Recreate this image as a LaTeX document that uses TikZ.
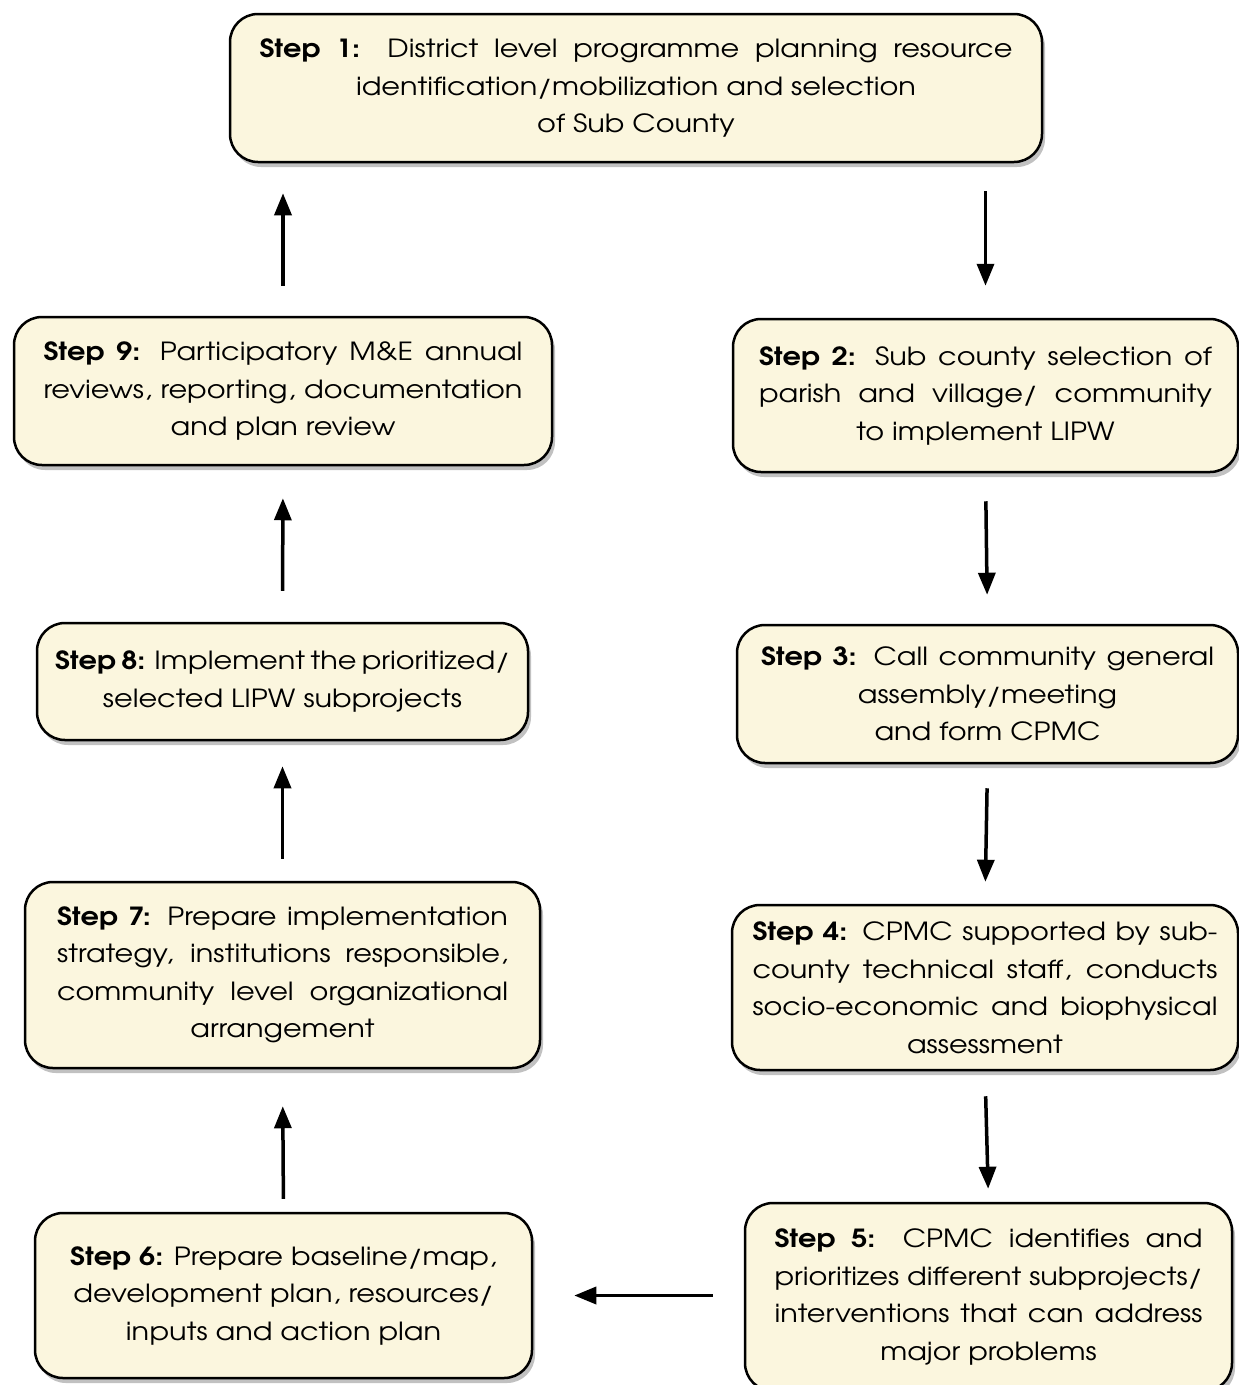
\documentclass[tikz,border=0pt]{standalone}
\usepackage{fontspec}
\setmainfont{texgyreadventor-regular.otf}[BoldFont=texgyreadventor-bold.otf, FakeStretch=1.15]
\usetikzlibrary{arrows.meta,shadows}
\definecolor{cream}{HTML}{FBF6DE}
\newcommand\spreadln[2]{{\spaceskip=.28em plus 1fil minus .2em\makebox[#1pt][s]{#2}}}
\tikzset{
  stepbox/.style={draw=black, line width=2.5pt, rounded corners=28pt, fill=cream,
    align=center, inner sep=0pt, font=\fontsize{25}{37.5}\selectfont,
    drop shadow={shadow xshift=3pt, shadow yshift=-5pt, opacity=.35, fill=black!70}},
  flow/.style={line width=3.5pt, -{Triangle[length=22pt,width=17pt]}}
}
\begin{document}
\begin{tikzpicture}[x=1pt,y=1pt]
\useasboundingbox (0,0) rectangle (1239,-1385);
\node[stepbox, minimum width=812pt, minimum height=148pt] (s1) at (636,-88)
  {\spreadln{753}{\textbf{Step 1:} District level programme planning resource}\\
   identification/mobilization and selection\\ of Sub County};
\node[stepbox, minimum width=505pt, minimum height=153pt] (s2) at (985.5,-395.5)
  {\spreadln{453}{\textbf{Step 2:} Sub county selection of}\\
   \spreadln{453}{parish and village/ community}\\ to implement LIPW};
\node[stepbox, minimum width=501pt, minimum height=138pt] (s3) at (987.5,-694)
  {\spreadln{453}{\textbf{Step 3:} Call community general}\\
   assembly/meeting\\ and form CPMC};
\node[stepbox, minimum width=506pt, minimum height=165pt] (s4) at (985,-987.5)
  {\spreadln{465}{\textbf{Step 4:} CPMC supported by sub-}\\
   \spreadln{465}{county technical staff, conducts}\\
   \spreadln{465}{socio-economic and biophysical}\\ assessment};
\node[stepbox, minimum width=487pt, minimum height=188pt] (s5) at (988.5,-1297)
  {\spreadln{428}{\textbf{Step 5:} CPMC identifies and}\\
   \spreadln{428}{prioritizes different subprojects/}\\
   \spreadln{428}{interventions that can address}\\ major problems};
\node[stepbox, minimum width=497pt, minimum height=165pt] (s6) at (283.5,-1295.5)
  {\textbf{Step 6:} Prepare baseline/map,\\
   development plan, resources/\\ inputs and action plan};
\node[stepbox, minimum width=515pt, minimum height=186pt] (s7) at (282.5,-975)
  {\spreadln{451}{\textbf{Step 7:} Prepare implementation}\\
   \spreadln{451}{strategy, institutions responsible,}\\
   \spreadln{451}{community level organizational}\\ arrangement};
\node[stepbox, minimum width=491pt, minimum height=117pt] (s8) at (282.5,-681.5)
  {\spreadln{455}{\textbf{Step 8:} Implement the prioritized/}\\
   selected LIPW subprojects};
\node[stepbox, minimum width=538pt, minimum height=148pt] (s9) at (283,-391)
  {\spreadln{479}{\textbf{Step 9:} Participatory M\&E annual}\\
   \spreadln{479}{reviews, reporting, documentation}\\ and plan review};

\draw[flow, shorten <=28pt, shorten >=32pt] (s1.south -| s2.north) -- (s2.north);
\draw[flow, shorten <=28pt, shorten >=29pt] (s2.south) -- (s3.north);
\draw[flow, shorten <=24pt, shorten >=22pt] (s3.south) -- (s4.north);
\draw[flow, shorten <=25pt, shorten >=13pt] (s4.south) -- (s5.north);
\draw[flow, shorten <=31pt, shorten >=41pt] (s5.west |- s6.east) -- (s6.east);
\draw[flow, shorten <=13pt, shorten >=37pt] (s6.north) -- (s7.south);
\draw[flow, shorten <=22pt, shorten >=25pt] (s7.north) -- (s8.south);
\draw[flow, shorten <=31pt, shorten >=32pt] (s8.north) -- (s9.south);
\draw[flow, shorten <=30pt, shorten >=30pt] (s9.north) -- (s9.north |- s1.south);
\end{tikzpicture}
\end{document}
